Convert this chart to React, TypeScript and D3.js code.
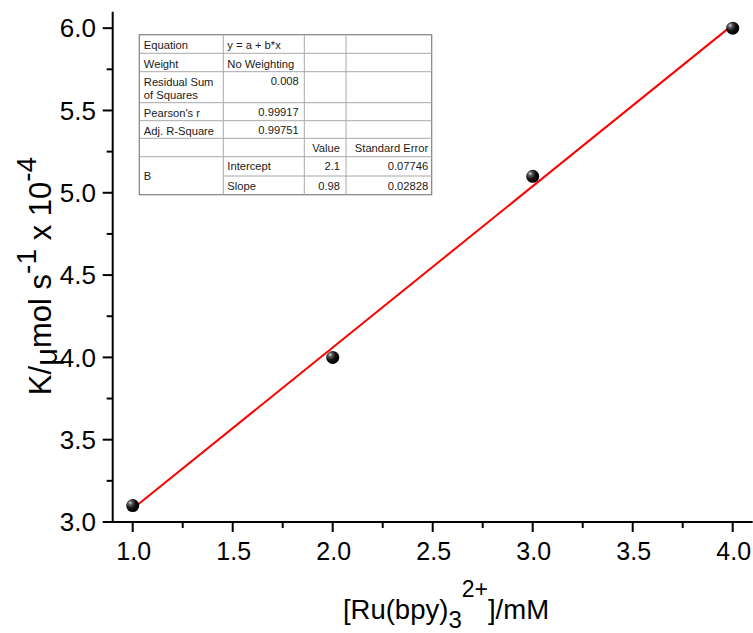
import React from "react";
import * as d3 from "d3";

const concentrations = [1.0, 2.0, 3.0, 4.0];
const rates = [3.1, 4.0, 5.1, 6.0];
const fitIntercept = 2.1;
const fitSlope = 0.98;
const xTicks = [1.0, 1.5, 2.0, 2.5, 3.0, 3.5, 4.0];
const yTicks = [3.0, 3.5, 4.0, 4.5, 5.0, 5.5, 6.0];
const xMinor = [1.25, 1.75, 2.25, 2.75, 3.25, 3.75];
const yMinor = [3.25, 3.75, 4.25, 4.75, 5.25, 5.75];

const tableSummary = [
  ["Equation", "y = a + b*x"],
  ["Weight", "No Weighting"],
  ["Residual Sum|of Squares", "0.008"],
  ["Pearson's r", "0.99917"],
  ["Adj. R-Square", "0.99751"],
];
const tableHeader = ["Value", "Standard Error"];
const tableParamGroup = "B";
const tableParams = [
  ["Intercept", "2.1", "0.07746"],
  ["Slope", "0.98", "0.02828"],
];

const W = 753;
const H = 633;
const FONT = "'Liberation Sans', Arial, Helvetica, sans-serif";

export default function App() {
  const x = d3.scaleLinear().domain([0.9, 4.1]).range([112.7, 752.7]);
  const y = d3.scaleLinear().domain([3.0, 6.1]).range([522, 11.7]);
  const fitLine = d3
    .line<number>()
    .x((d) => x(d))
    .y((d) => y(fitIntercept + fitSlope * d));
  const xFmt = d3.format(".1f");

  // table geometry
  const colX = [139.3, 223.3, 304.3, 346, 431.7];
  const rowY = [34.7, 53.3, 71.7, 102.7, 120.7, 138.3, 156.7, 176, 194.7];
  const tfs = 11.2;
  const tColor = "#1a1a1a";
  const lineColor = "#a8a8a8";

  const axisY = y(3.0);
  const axisX = x(0.9);

  return (
    <svg
      width={W}
      height={H}
      style={{ position: "absolute", left: 0, top: 0, background: "#fff" }}
      fontFamily={FONT}
    >
      <defs>
        <radialGradient id="ball" cx="35%" cy="35%" r="65%" fx="30%" fy="28%">
          <stop offset="0%" stopColor="#d8d8d8" />
          <stop offset="25%" stopColor="#5a5a5a" />
          <stop offset="60%" stopColor="#111" />
          <stop offset="100%" stopColor="#000" />
        </radialGradient>
      </defs>
      <rect x={0} y={0} width={W} height={H} fill="#fff" />

      {/* axes */}
      <line x1={axisX} x2={axisX} y1={y(6.1)} y2={axisY + 1} stroke="#000" strokeWidth={2} />
      <line x1={axisX - 1} x2={x(4.1)} y1={axisY} y2={axisY} stroke="#000" strokeWidth={2} />

      {xTicks.map((t) => (
        <g key={"xt" + t}>
          <line x1={x(t)} x2={x(t)} y1={axisY} y2={axisY + 10} stroke="#000" strokeWidth={2} />
          <text x={x(t) + 1} y={560} fontSize={25} textAnchor="middle" fill="#000">
            {xFmt(t)}
          </text>
        </g>
      ))}
      {xMinor.map((t) => (
        <line key={"xm" + t} x1={x(t)} x2={x(t)} y1={axisY} y2={axisY + 6} stroke="#000" strokeWidth={2} />
      ))}
      {yTicks.map((t) => (
        <g key={"yt" + t}>
          <line x1={axisX - 10} x2={axisX} y1={y(t)} y2={y(t)} stroke="#000" strokeWidth={2} />
          <text x={96} y={y(t) + 0.358 * 26} fontSize={26} textAnchor="end" fill="#000">
            {xFmt(t)}
          </text>
        </g>
      ))}
      {yMinor.map((t) => (
        <line key={"ym" + t} x1={axisX - 6} x2={axisX} y1={y(t)} y2={y(t)} stroke="#000" strokeWidth={2} />
      ))}

      {/* axis titles */}
      <text x={446} y={619} fontSize={27.5} textAnchor="middle" fill="#000">
        <tspan>[Ru(bpy)</tspan>
        <tspan fontSize={24} dy={9}>3</tspan>
        <tspan fontSize={23} dy={-31}>2+</tspan>
        <tspan dy={22}>]/mM</tspan>
      </text>
      <text
        transform="translate(51,276) rotate(-90)"
        x={0}
        y={0}
        fontSize={31}
        textAnchor="middle"
        fill="#000"
      >
        <tspan>K/</tspan>
        <tspan dy={6}>μ</tspan>
        <tspan dy={-6}>mol s</tspan>
        <tspan fontSize={28} dy={-15}>-1</tspan>
        <tspan dy={15}> x 10</tspan>
        <tspan fontSize={28} dy={-15}>-4</tspan>
      </text>

      {/* fit line */}
      <path
        d={fitLine([concentrations[0], concentrations[concentrations.length - 1]]) || ""}
        stroke="#ff0000"
        strokeWidth={2}
        fill="none"
      />

      {/* points */}
      {concentrations.map((c, i) => (
        <circle key={"p" + i} cx={x(c)} cy={y(rates[i])} r={6.5} fill="url(#ball)" />
      ))}

      {/* table */}
      <g fontSize={tfs} fill={tColor}>
        <rect
          x={colX[0]}
          y={rowY[0]}
          width={colX[4] - colX[0]}
          height={rowY[8] - rowY[0]}
          fill="#fff"
          stroke="#808080"
          strokeWidth={1.2}
        />
        {colX.slice(1, 4).map((cx, i) => (
          <line key={"tc" + i} x1={cx} x2={cx} y1={rowY[0]} y2={rowY[8]} stroke={lineColor} strokeWidth={1} />
        ))}
        {rowY.slice(1, 7).map((ry, i) => (
          <line key={"tr" + i} x1={colX[0]} x2={colX[4]} y1={ry} y2={ry} stroke={lineColor} strokeWidth={1} />
        ))}
        <line x1={colX[1]} x2={colX[4]} y1={rowY[7]} y2={rowY[7]} stroke={lineColor} strokeWidth={1} />

        {tableSummary.map((row, i) => {
          const top = rowY[i];
          const labels = row[0].split("|");
          const isLeft = i < 2;
          return (
            <g key={"ts" + i}>
              {labels.map((l, j) => (
                <text key={j} x={colX[0] + 4.5} y={top + 14.4 + j * 12.8}>
                  {l}
                </text>
              ))}
              <text
                x={isLeft ? colX[1] + 4 : colX[2] - 5.5}
                y={top + 14.2 - (isLeft ? 0 : 0.8)}
                textAnchor={isLeft ? "start" : "end"}
              >
                {row[1]}
              </text>
            </g>
          );
        })}
        <text x={colX[3] - 6} y={rowY[5] + 13.8} textAnchor="end">
          {tableHeader[0]}
        </text>
        <text x={colX[4] - 3.5} y={rowY[5] + 13.8} textAnchor="end">
          {tableHeader[1]}
        </text>
        <text x={colX[0] + 4.5} y={(rowY[6] + rowY[8]) / 2 + 4}>
          {tableParamGroup}
        </text>
        {tableParams.map((p, i) => (
          <g key={"tp" + i}>
            <text x={colX[1] + 4} y={rowY[6 + i] + 13.5}>
              {p[0]}
            </text>
            <text x={colX[3] - 6} y={rowY[6 + i] + 13.5} textAnchor="end">
              {p[1]}
            </text>
            <text x={colX[4] - 3.5} y={rowY[6 + i] + 13.5} textAnchor="end">
              {p[2]}
            </text>
          </g>
        ))}
      </g>
    </svg>
  );
}
